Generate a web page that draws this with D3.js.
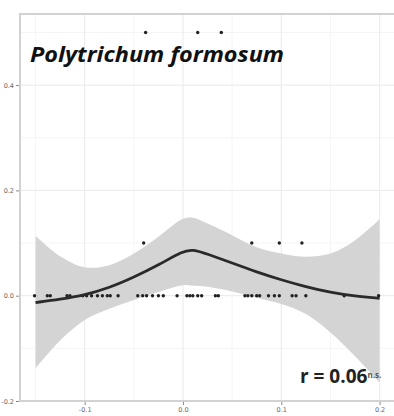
<!DOCTYPE html>
<html>
<head>
<meta charset="utf-8">
<script src="https://cdn.jsdelivr.net/npm/d3@7"></script>
<style>
  body { margin: 0; background: #fff; }
  svg { display: block; }
</style>
</head>
<body>
<div id="chart"></div>
<script>
// observed points (x values grouped by y level)
var zeroX = [-0.151, -0.138, -0.135, -0.118, -0.115, -0.102, -0.098, -0.093, -0.087, -0.082,
             -0.077, -0.074, -0.066, -0.046, -0.041, -0.037, -0.031, -0.025, -0.020, -0.006,
             0.004, 0.007, 0.010, 0.015, 0.019, 0.033, 0.036, 0.063, 0.066, 0.070,
             0.075, 0.078, 0.087, 0.093, 0.098, 0.111, 0.115, 0.125, 0.164, 0.199];
var tenthX = [-0.040, 0.070, 0.098, 0.121];
var halfX = [-0.038, 0.015, 0.039];

// loess fit and confidence band
var smoothX = [-0.15, -0.125, -0.1, -0.075, -0.05, -0.025, 0, 0.01, 0.025, 0.05, 0.075, 0.1, 0.125, 0.15, 0.175, 0.2];
var smoothFit = [-0.013, -0.007, 0.001, 0.015, 0.035, 0.058, 0.085, 0.088, 0.079, 0.062, 0.045, 0.030, 0.017, 0.006, -0.001, -0.005];
var smoothHi = [0.114, 0.075, 0.054, 0.058, 0.080, 0.112, 0.146, 0.148, 0.137, 0.115, 0.092, 0.080, 0.074, 0.080, 0.105, 0.145];
var smoothLo = [-0.138, -0.085, -0.046, -0.025, -0.008, 0.007, 0.020, 0.019, 0.017, 0.008, -0.004, -0.016, -0.035, -0.070, -0.115, -0.165];

var xMajor = [-0.1, 0.0, 0.1, 0.2];
var xMinor = [-0.15, -0.05, 0.05, 0.15];
var yMajor = [-0.2, 0.0, 0.2, 0.4];
var yMinor = [-0.1, 0.1, 0.3, 0.5];

var width = 394, height = 416;
var panel = { left: 20, top: 14, right: 396, bottom: 401 };

var svg = d3.select("#chart").append("svg")
    .attr("width", width)
    .attr("height", height);

var x = d3.scaleLinear().domain([-0.1658, 0.2167]).range([panel.left, panel.right]);
var y = d3.scaleLinear().domain([-0.2, 0.535]).range([panel.bottom, panel.top]);

var plot = svg.append("g");

// grid
plot.selectAll(".gminor-x").data(xMinor).enter().append("line")
    .attr("x1", d => x(d)).attr("x2", d => x(d))
    .attr("y1", panel.top).attr("y2", panel.bottom)
    .attr("stroke", "#f5f5f5").attr("stroke-width", 1);
plot.selectAll(".gminor-y").data(yMinor).enter().append("line")
    .attr("x1", panel.left).attr("x2", panel.right)
    .attr("y1", d => y(d)).attr("y2", d => y(d))
    .attr("stroke", "#f5f5f5").attr("stroke-width", 1);
plot.selectAll(".gmajor-x").data(xMajor).enter().append("line")
    .attr("x1", d => x(d)).attr("x2", d => x(d))
    .attr("y1", panel.top).attr("y2", panel.bottom)
    .attr("stroke", "#ededed").attr("stroke-width", 1.2);
plot.selectAll(".gmajor-y").data(yMajor).enter().append("line")
    .attr("x1", panel.left).attr("x2", panel.right)
    .attr("y1", d => y(d)).attr("y2", d => y(d))
    .attr("stroke", "#ededed").attr("stroke-width", 1.2);

// confidence band
var bandData = smoothX.map((d, i) => ({ x: d, lo: smoothLo[i], hi: smoothHi[i], fit: smoothFit[i] }));

var area = d3.area()
    .x(d => x(d.x))
    .y0(d => y(d.lo))
    .y1(d => y(d.hi))
    .curve(d3.curveCatmullRom);

plot.append("path")
    .datum(bandData)
    .attr("d", area)
    .attr("fill", "#d4d4d4");

// points
var pts = zeroX.map(d => [d, 0])
    .concat(tenthX.map(d => [d, 0.1]))
    .concat(halfX.map(d => [d, 0.5]));

plot.selectAll(".pt").data(pts).enter().append("circle")
    .attr("cx", d => x(d[0]))
    .attr("cy", d => y(d[1]))
    .attr("r", 1.7)
    .attr("fill", "#222");

// fit line
var line = d3.line()
    .x(d => x(d.x))
    .y(d => y(d.fit))
    .curve(d3.curveBasis);

plot.append("path")
    .datum(bandData)
    .attr("d", line)
    .attr("fill", "none")
    .attr("stroke", "#2a2a2a")
    .attr("stroke-width", 2.8);

// panel border
plot.append("rect")
    .attr("x", panel.left).attr("y", panel.top)
    .attr("width", panel.right - panel.left).attr("height", panel.bottom - panel.top)
    .attr("fill", "none")
    .attr("stroke", "#d2d2d2")
    .attr("stroke-width", 2);

// axes
var fmt = d => d3.format(".1f")(d).replace("\u2212", "-");
var xAxis = svg.append("g")
    .attr("transform", `translate(0,${panel.bottom + 1})`)
    .call(d3.axisBottom(x).tickValues(xMajor).tickSize(3).tickPadding(2).tickFormat(fmt));
var yAxis = svg.append("g")
    .attr("transform", `translate(${panel.left - 1},0)`)
    .call(d3.axisLeft(y).tickValues(yMajor).tickSize(3).tickPadding(2).tickFormat(fmt));

[xAxis, yAxis].forEach(a => {
    a.select(".domain").remove();
    a.selectAll(".tick line").attr("stroke", "#888");
    a.selectAll(".tick text")
        .attr("fill", "#666")
        .style("font-family", "DejaVu Sans, sans-serif")
        .style("font-size", "6.5px");
});

// title
svg.append("text")
    .attr("x", 30).attr("y", 62)
    .attr("textLength", 254)
    .attr("lengthAdjust", "spacingAndGlyphs")
    .style("font-family", "Open Sans, sans-serif")
    .style("font-weight", "bold")
    .style("font-style", "italic")
    .style("font-size", "22px")
    .attr("fill", "#111")
    .text("Polytrichum formosum");

// correlation label
var r = svg.append("text")
    .attr("x", 300).attr("y", 383)
    .style("font-family", "Open Sans, sans-serif")
    .style("font-weight", "bold")
    .style("font-size", "19px")
    .attr("fill", "#222");
r.append("tspan").text("r = 0.06");
r.append("tspan")
    .attr("dy", -5)
    .attr("fill", "#555")
    .style("font-size", "8px")
    .text("n.s.");
</script>
</body>
</html>
